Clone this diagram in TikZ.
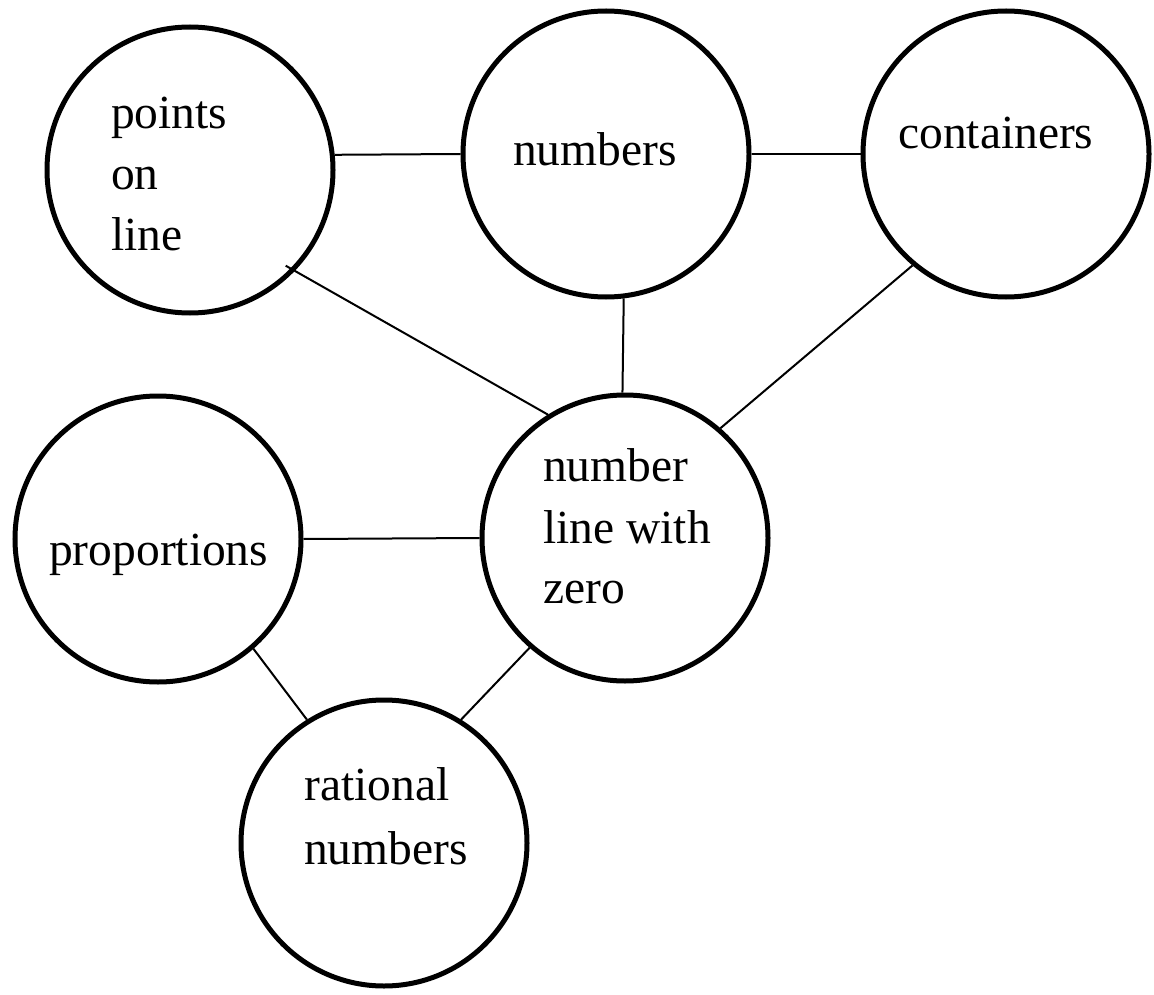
\documentclass[tikz,border=0pt]{standalone}
\usepackage{fontspec}
\setmainfont{Liberation Serif}
\usetikzlibrary{calc}
\begin{document}
\begin{tikzpicture}[x=1pt,y=-1pt,
  circ/.style={circle,draw=black,line width=5pt,minimum size=286pt,inner sep=0pt},
  lbl/.style={anchor=base west,inner sep=0pt,font=\fontsize{47.5}{61}\selectfont},
  conn/.style={draw=black,line width=2pt}]
\useasboundingbox (0,0) rectangle (1154,995);
% circles
\node[circ] (pts) at (190,170) {};
\node[circ] (nums) at (606,154) {};
\node[circ] (cont) at (1006,154) {};
\node[circ] (nl) at (625,538) {};
\node[circ] (prop) at (158,539) {};
\node[circ] (rat) at (384,843) {};
% labels
\node[lbl] (pts1) at (111,129) {points};
\node[lbl] (pts2) at (111,190) {on};
\node[lbl] (pts3) at (111,251) {line};
\node[lbl] (numsl) at (513,166) {numbers};
\node[lbl] (contl) at (898,149) {containers};
\node[lbl] (nl1) at (543,481) {number};
\node[lbl] (nl2) at (543,543) {line with};
\node[lbl] (nl3) at (543,603) {zero};
\node[lbl] (propl) at (49,565) {proportions};
\node[lbl] (rat1) at (304,800) {rational};
\node[lbl] (rat2) at (304,864) {numbers};
% connectors
\coordinate (ptsin) at ($(pts.center)!0.93!(pts.-45)$);
\draw[conn] (pts.6.4) -- (nums.180);
\draw[conn] (nums.0) -- (cont.180);
\draw[conn] (ptsin) -- (nl.122);
\draw[conn] (nums.-83) -- (nl.91);
\draw[conn] (cont.-130) -- (nl.49);
\draw[conn] (prop.0) -- (nl.180);
\draw[conn] (prop.-49) -- (rat.122);
\draw[conn] (nl.-131) -- (rat.58);
\end{tikzpicture}
\end{document}
